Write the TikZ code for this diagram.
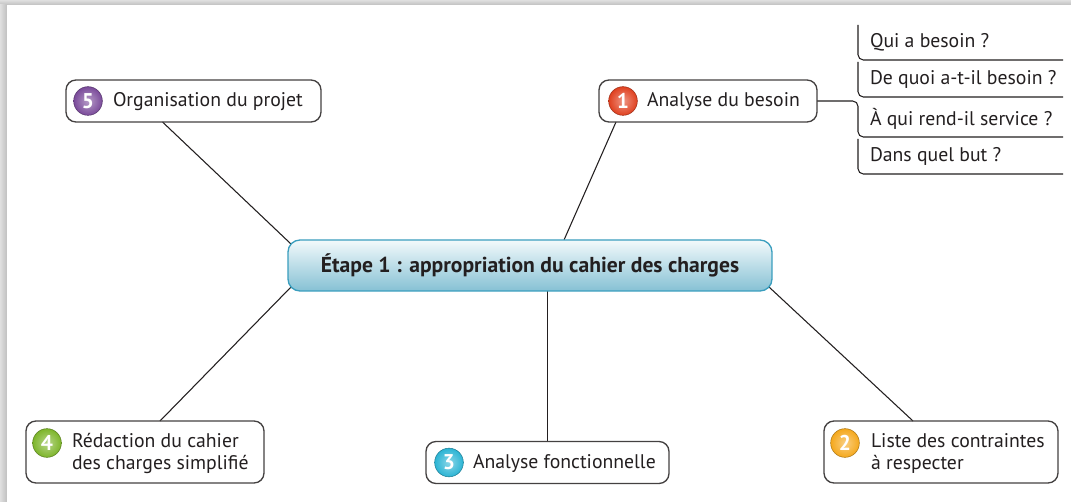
\documentclass[tikz,border=0pt]{standalone}
\usepackage{fontspec}
\setmainfont{PT Sans}
\usetikzlibrary{positioning,calc,backgrounds}
\definecolor{ink}{HTML}{231F20}
\definecolor{hubtop}{HTML}{F2F9FB}
\definecolor{hubbot}{HTML}{86C1D4}
\definecolor{hubline}{HTML}{3A9EBE}
\definecolor{bPurple}{HTML}{7A4A9A}
\definecolor{bRed}{HTML}{E0401F}
\definecolor{bGreen}{HTML}{7DB52A}
\definecolor{bCyan}{HTML}{2BB4D4}
\definecolor{bOrange}{HTML}{F5A81C}
\begin{document}
\begin{tikzpicture}[x=0.75pt,y=-0.75pt,inner sep=0pt,outer sep=0pt,text=ink,
font=\fontsize{14.8}{16.5}\selectfont,
leaf/.style={draw=ink!85,line width=1pt,rounded corners=7.5pt,minimum height=31.5pt},
badge/.style={circle,minimum size=21.5pt,draw=#1!70!black,line width=0.4pt,inner color=#1!55!white,outer color=#1,text=white,font=\fontsize{16}{16}\selectfont\bfseries},
leaftext/.style={anchor=west,align=left},
hub/.style={draw=hubline,line width=1pt,rounded corners=9pt,minimum width=363pt,minimum height=38.25pt,top color=hubtop,bottom color=hubbot,font=\fontsize{16.2}{18}\selectfont\bfseries},
ask/.style={anchor=north west,inner xsep=9pt},
link/.style={draw=ink,line width=0.8pt}]
\useasboundingbox (0,0) rectangle (1071,502);
% centre
\node[hub] (c) at (530,265.5) {Étape 1 : appropriation du cahier des charges};
% branches
\node[leaf,minimum width=191.25pt] (n5) at (193.5,101) {};
\node[badge=bPurple] (b5) at ($(n5.west)+(22,0)$) {5};
\node[leaftext] (t5) at ($(n5.west)+(47,1)$) {Organisation du projet};
\node[leaf,minimum width=163.5pt] (n1) at (708,101) {};
\node[badge=bRed] (b1) at ($(n1.west)+(24,0)$) {1};
\node[leaftext] (t1) at ($(n1.west)+(48,1)$) {Analyse du besoin};
\node[leaf,minimum width=178.5pt,minimum height=46.5pt] (n4) at (145,452) {};
\node[badge=bGreen] (b4) at ($(n4.west)+(21,-9)$) {4};
\node[leaftext] (t4) at ($(n4.west)+(46,1)$) {Rédaction du cahier\\des charges simplifié};
\node[leaf,minimum width=182.25pt] (n3) at (547.5,462.5) {};
\node[badge=bCyan] (b3) at ($(n3.west)+(23,0)$) {3};
\node[leaftext] (t3) at ($(n3.west)+(47,1)$) {Analyse fonctionnelle};
\node[leaf,minimum width=175.5pt,minimum height=46.5pt] (n2) at (941,452) {};
\node[badge=bOrange] (b2) at ($(n2.west)+(21,-9)$) {2};
\node[leaftext] (t2) at ($(n2.west)+(47,1)$) {Liste des contraintes\\à respecter};
% questions
\node[ask,minimum height=26.25pt] (q1) at (858,25) {Qui a besoin ?};
\node[ask,minimum height=26.25pt] (q2) at (858,62) {De quoi a-t-il besoin ?};
\node[ask,minimum height=27pt] (q3) at (858,101) {À qui rend-il service ?};
\node[ask,minimum height=26.25pt] (q4) at (858,139) {Dans quel but ?};
\coordinate (edge) at (1063,0);
\begin{scope}[on background layer]
\fill[gray!45] (0,0) rectangle (1071,502);
\shade[top color=gray!25,bottom color=gray!50] (0,0) rectangle (1071,5);
\shade[left color=gray!25,right color=gray!50] (0,5) rectangle (7,502);
\fill[white] (7,5) rectangle (1071,502);
\draw[link] ($(n5.south)+(-31,0)$) -- ($(c.north west)+(3,4)$);
\draw[link] ($(n1.south west)+(17,0)$) -- ($(c.north)+(34,0)$);
\draw[link] ($(n4.north)+(15,0)$) -- ($(c.south west)+(3,-4)$);
\draw[link] (n3.north) -- (n3.north |- c.south);
\draw[link] ($(n2.north)+(-28,0)$) -- ($(c.south east)+(-3,-4)$);
\draw[link,rounded corners=4pt] (n1.east) -| (q3.south west) -- (q3.south west -| edge);
\foreach \q in {q1,q2,q4}
  \draw[link,rounded corners=4pt] (\q.north west) -- (\q.south west) -- (\q.south west -| edge);
\end{scope}
\end{tikzpicture}
\end{document}
